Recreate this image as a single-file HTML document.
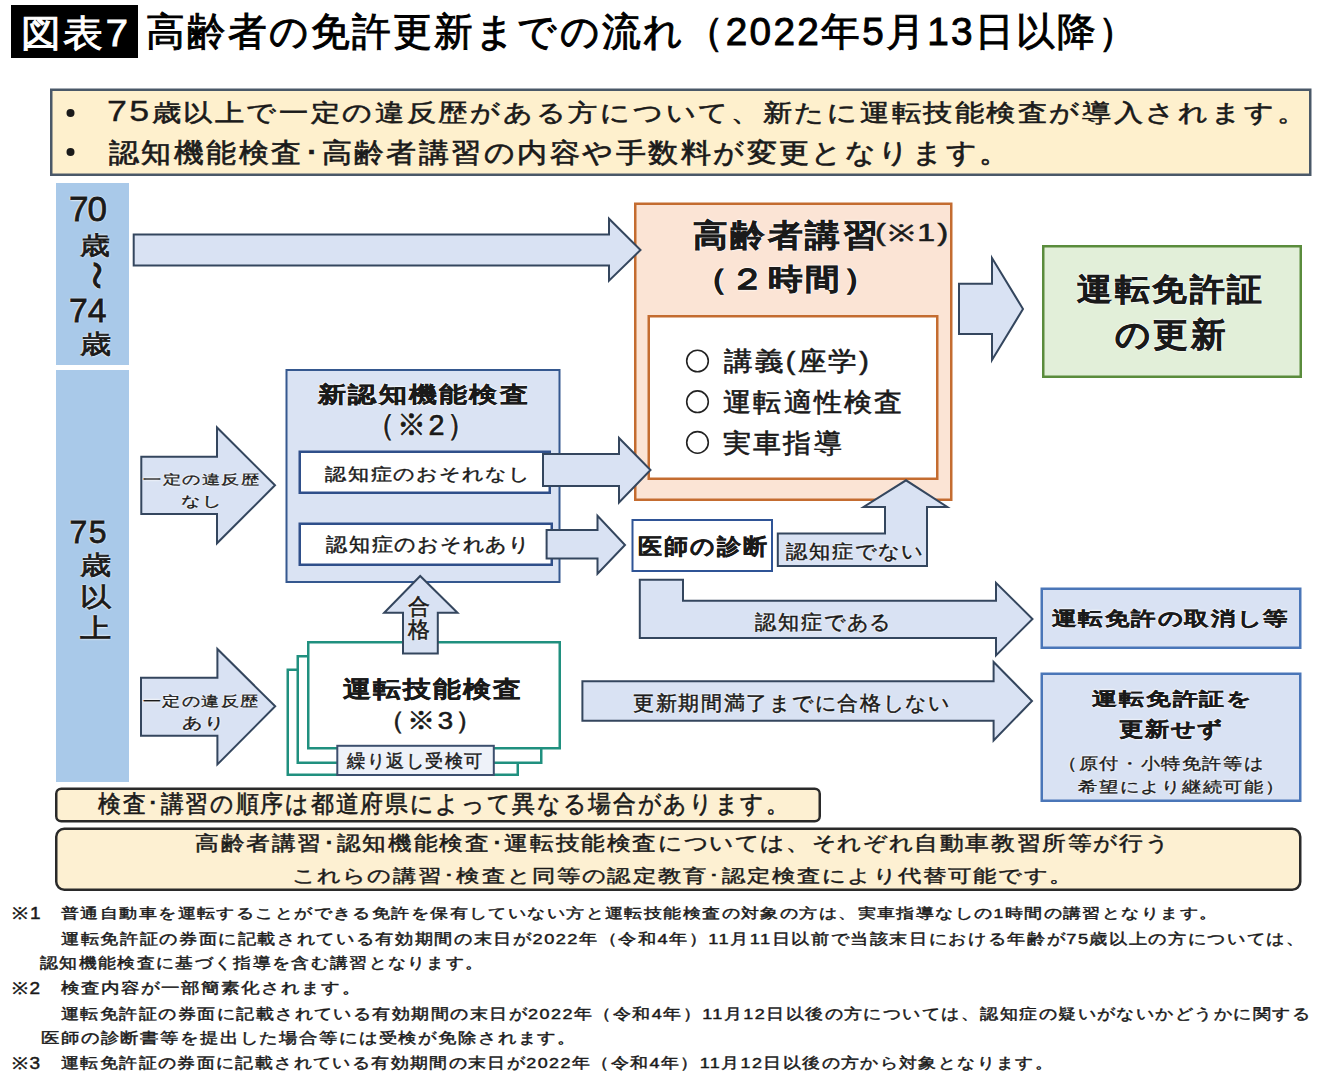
<!DOCTYPE html>
<html><head><meta charset="utf-8"><title>図表7</title>
<style>
html,body{margin:0;padding:0;background:#fff;}
body{width:1340px;height:1080px;position:relative;overflow:hidden;font-family:"Liberation Sans",sans-serif;color:#1a1a1a;}
svg.bg{position:absolute;left:0;top:0;}
.t{position:absolute;white-space:nowrap;}
</style></head><body>
<svg class="bg" width="1340" height="1080" viewBox="0 0 1340 1080">
<rect x="11" y="5" width="127" height="53" fill="#000"/>
<rect x="51.25" y="89.75" width="1259.00" height="85.00" rx="0" fill="#fef0cd" stroke="#4a5868" stroke-width="2.5"/>
<rect x="56" y="183" width="73" height="182" fill="#a9c9e9"/>
<rect x="56" y="370" width="73" height="412" fill="#a9c9e9"/>
<rect x="635.25" y="203.75" width="316.00" height="296.00" rx="0" fill="#fbe4d5" stroke="#c46c30" stroke-width="2.5"/>
<rect x="648.75" y="316.25" width="288.50" height="162.50" rx="0" fill="#ffffff" stroke="#c46c30" stroke-width="2.5"/>
<rect x="1043.25" y="246.25" width="257.50" height="130.50" rx="0" fill="#e2efd9" stroke="#5a8c3c" stroke-width="2.5"/>
<rect x="286.50" y="370.00" width="273.00" height="212.00" rx="0" fill="#dae3f3" stroke="#35588f" stroke-width="2"/>
<rect x="299.75" y="451.75" width="250.00" height="41.00" rx="0" fill="#ffffff" stroke="#2f4f8a" stroke-width="2.5"/>
<rect x="299.75" y="523.75" width="252.00" height="41.00" rx="0" fill="#ffffff" stroke="#2f4f8a" stroke-width="2.5"/>
<rect x="632.50" y="520.00" width="139.50" height="51.00" rx="0" fill="#ffffff" stroke="#2f5496" stroke-width="2"/>
<rect x="1041.75" y="588.75" width="258.50" height="59.00" rx="0" fill="#d9e2f3" stroke="#4a76b8" stroke-width="2.5"/>
<rect x="1041.75" y="673.75" width="258.50" height="127.00" rx="0" fill="#d9e2f3" stroke="#4a76b8" stroke-width="2.5"/>
<rect x="287.75" y="669.75" width="230.00" height="105.00" rx="0" fill="#ffffff" stroke="#20907f" stroke-width="2.5"/>
<rect x="297.75" y="656.25" width="243.50" height="106.50" rx="0" fill="#ffffff" stroke="#20907f" stroke-width="2.5"/>
<rect x="308.25" y="642.25" width="251.50" height="106.00" rx="0" fill="#ffffff" stroke="#20907f" stroke-width="2.5"/>
<rect x="56.25" y="788.75" width="763.50" height="32.50" rx="5" fill="#fdf0d2" stroke="#2a2a2a" stroke-width="2.5"/>
<rect x="56.25" y="828.75" width="1244.00" height="61.00" rx="8" fill="#fdf0d2" stroke="#2a2a2a" stroke-width="2.5"/>
<polygon points="133.70,234.50 609.00,234.50 609.00,218.70 640.50,250.00 609.00,280.70 609.00,265.50 133.70,265.50" fill="#d9e2f3" stroke="#34465e" stroke-width="2" stroke-linejoin="miter"/>
<polygon points="959.00,283.80 992.00,283.80 992.00,258.00 1023.00,309.00 992.00,360.00 992.00,334.00 959.00,334.00" fill="#d9e2f3" stroke="#34465e" stroke-width="2" stroke-linejoin="miter"/>
<polygon points="141.30,456.70 217.00,456.70 217.00,427.50 275.00,485.30 217.00,543.30 217.00,514.00 141.30,514.00" fill="#d9e2f3" stroke="#34465e" stroke-width="2" stroke-linejoin="miter"/>
<polygon points="141.00,677.80 217.40,677.80 217.40,649.00 275.20,706.30 217.40,764.40 217.40,735.80 141.00,735.80" fill="#d9e2f3" stroke="#34465e" stroke-width="2" stroke-linejoin="miter"/>
<polygon points="543.00,454.00 619.00,454.00 619.00,438.00 650.50,470.00 619.00,502.50 619.00,486.00 543.00,486.00" fill="#d9e2f3" stroke="#34465e" stroke-width="2" stroke-linejoin="miter"/>
<polygon points="546.60,530.00 597.50,530.00 597.50,515.70 625.00,545.00 597.50,573.80 597.50,558.50 546.60,558.50" fill="#d9e2f3" stroke="#34465e" stroke-width="2" stroke-linejoin="miter"/>
<polygon points="777.80,533.60 885.00,533.60 885.00,507.00 863.60,507.00 906.00,480.30 947.30,507.00 927.00,507.00 927.00,566.00 777.80,566.00" fill="#d9e2f3" stroke="#34465e" stroke-width="2" stroke-linejoin="miter"/>
<polygon points="639.80,579.80 683.00,579.80 683.00,600.80 996.00,600.80 996.00,582.80 1032.50,619.00 996.00,655.40 996.00,638.00 639.80,638.00" fill="#d9e2f3" stroke="#34465e" stroke-width="2" stroke-linejoin="miter"/>
<polygon points="582.40,681.30 993.60,681.30 993.60,662.00 1032.00,701.00 993.60,740.50 993.60,720.70 582.40,720.70" fill="#d9e2f3" stroke="#34465e" stroke-width="2" stroke-linejoin="miter"/>
<polygon points="403.00,653.50 403.00,612.80 384.20,612.80 420.20,576.00 457.50,612.80 437.80,612.80 437.80,653.50" fill="#d9e2f3" stroke="#34465e" stroke-width="2" stroke-linejoin="miter"/>
<rect x="337.30" y="745.80" width="156.50" height="29.20" rx="0" fill="#eef2f9" stroke="#3c4f6e" stroke-width="2"/>
<circle cx="70.5" cy="113" r="4" fill="#1a1a1a"/>
<circle cx="70.5" cy="152" r="4" fill="#1a1a1a"/>
<circle cx="697.5" cy="361" r="10.8" fill="none" stroke="#222" stroke-width="1.6"/>
<circle cx="697.5" cy="401.7" r="10.8" fill="none" stroke="#222" stroke-width="1.6"/>
<circle cx="697.5" cy="442.4" r="10.8" fill="none" stroke="#222" stroke-width="1.6"/>
</svg>
<div class="t" id="tag" style="left:21.1px;top:15.45px;font-size:37px;line-height:37px;letter-spacing:2.22px;transform:scaleX(1.079);transform-origin:0 0;-webkit-text-stroke:0.89px currentColor;color:#fff;">図表7</div>
<div class="t" id="title" style="left:145.9px;top:12.2px;font-size:39px;line-height:39px;letter-spacing:2.34px;transform:scaleX(0.9931);transform-origin:0 0;-webkit-text-stroke:0.94px currentColor;color:#000;">高齢者の免許更新までの流れ（2022年5月13日以降）</div>
<div class="t" id="b1" style="left:107.26px;top:100.8px;font-size:24.1px;line-height:24.1px;letter-spacing:1.93px;transform:scaleX(1.2183);transform-origin:0 0;-webkit-text-stroke:0.58px currentColor;"><span style="font-size:1.22em;line-height:0;-webkit-text-stroke:0.3px currentColor">75</span>歳以上で一定の違反歴がある方について、新たに運転技能検査が導入されます。</div>
<div class="t" id="b2" style="left:108.76px;top:139.66px;font-size:27px;line-height:27px;letter-spacing:2.16px;transform:scaleX(1.1122);transform-origin:0 0;-webkit-text-stroke:0.65px currentColor;">認知機能検査･高齢者講習の内容や手数料が変更となります。</div>
<div class="t" id="c70" style="left:68.9px;top:191.19px;font-size:35.1px;line-height:35.1px;letter-spacing:-0.9px;-webkit-text-stroke:0.8px currentColor;text-shadow:0 0 2px #fff,0 0 2px #fff,0 0 2px #fff;">70</div>
<div class="t" id="c1s" style="left:80px;top:232.77px;font-size:25px;line-height:25px;transform:scaleX(1.2);transform-origin:0 0;-webkit-text-stroke:0.8px currentColor;text-shadow:0 0 2px #fff,0 0 2px #fff,0 0 2px #fff;">歳</div>
<div class="t" id="ctil" style="left:78px;top:253.95px;font-size:42.9px;line-height:42.9px;transform:scaleX(1.2);transform-origin:0 0;-webkit-text-stroke:1.03px currentColor;transform:rotate(90deg);transform-origin:50% 50%;text-shadow:0 0 2px #fff,0 0 2px #fff,0 0 2px #fff;">～</div>
<div class="t" id="c74" style="left:68.9px;top:293.98px;font-size:33.75px;line-height:33.75px;-webkit-text-stroke:0.8px currentColor;text-shadow:0 0 2px #fff,0 0 2px #fff,0 0 2px #fff;">74</div>
<div class="t" id="c2s" style="left:80px;top:331.07px;font-size:26.3px;line-height:26.3px;transform:scaleX(1.2);transform-origin:0 0;-webkit-text-stroke:0.8px currentColor;text-shadow:0 0 2px #fff,0 0 2px #fff,0 0 2px #fff;">歳</div>
<div class="t" id="c75" style="left:69.42px;top:516.46px;font-size:32px;line-height:32px;letter-spacing:1.44px;-webkit-text-stroke:0.8px currentColor;text-shadow:0 0 2px #fff,0 0 2px #fff,0 0 2px #fff;">75</div>
<div class="t" id="c3" style="left:80px;top:550.39px;font-size:26px;line-height:26px;transform:scaleX(1.2);transform-origin:0 0;-webkit-text-stroke:0.8px currentColor;line-height:31.2px;text-shadow:0 0 2px #fff,0 0 2px #fff,0 0 2px #fff;">歳<br>以<br>上</div>
<div class="t" id="kt1" style="left:692.78px;top:220.02px;font-size:30.51px;line-height:30.51px;letter-spacing:2.44px;transform:scaleX(1.1211);transform-origin:0 0;-webkit-text-stroke:0.46px currentColor;font-weight:bold;text-shadow:0 0 2px #fff,0 0 2px #fff,0 0 2px #fff;">高齢者講習</div>
<div class="t" id="kt2" style="left:874.82px;top:222.2px;font-size:23px;line-height:23px;letter-spacing:1.84px;transform:scaleX(1.3924);transform-origin:0 0;-webkit-text-stroke:0.55px currentColor;">(※1)</div>
<div class="t" id="kt3" style="left:693.0px;top:263.97px;font-size:29.3px;line-height:29.3px;letter-spacing:2.34px;transform:scaleX(1.1929);transform-origin:0 0;-webkit-text-stroke:0.44px currentColor;font-weight:bold;text-shadow:0 0 2px #fff,0 0 2px #fff,0 0 2px #fff;">（２時間）</div>
<div class="t" id="l1" style="left:723.86px;top:348.2px;font-size:26px;line-height:26px;letter-spacing:2.08px;transform:scaleX(1.0992);transform-origin:0 0;-webkit-text-stroke:0.62px currentColor;">講義(座学)</div>
<div class="t" id="l2" style="left:722.96px;top:389.2px;font-size:26px;line-height:26px;letter-spacing:2.08px;transform:scaleX(1.0783);transform-origin:0 0;-webkit-text-stroke:0.62px currentColor;">運転適性検査</div>
<div class="t" id="l3" style="left:722.96px;top:429.9px;font-size:26px;line-height:26px;letter-spacing:2.08px;transform:scaleX(1.0764);transform-origin:0 0;-webkit-text-stroke:0.62px currentColor;">実車指導</div>
<div class="t" id="g1" style="left:1076.9px;top:274.29px;font-size:31.4px;line-height:31.4px;letter-spacing:2.51px;transform:scaleX(1.1209);transform-origin:0 0;-webkit-text-stroke:0.47px currentColor;font-weight:bold;text-shadow:0 0 2px #fff,0 0 2px #fff,0 0 2px #fff;">運転免許証</div>
<div class="t" id="g2" style="left:1114.9px;top:318.45px;font-size:33px;line-height:33px;letter-spacing:2.64px;transform:scaleX(1.0484);transform-origin:0 0;-webkit-text-stroke:0.49px currentColor;font-weight:bold;text-shadow:0 0 2px #fff,0 0 2px #fff,0 0 2px #fff;">の更新</div>
<div class="t" id="n1" style="left:317.96px;top:384.35px;font-size:22.0px;line-height:22.0px;letter-spacing:1.76px;transform:scaleX(1.274);transform-origin:0 0;-webkit-text-stroke:0.33px currentColor;font-weight:bold;text-shadow:0 0 2px #fff,0 0 2px #fff,0 0 2px #fff;">新認知機能検査</div>
<div class="t" id="n2" style="left:365.96px;top:409.52px;font-size:29.8px;line-height:29.8px;letter-spacing:2.38px;transform:scaleX(0.9634);transform-origin:0 0;-webkit-text-stroke:0.72px currentColor;text-shadow:0 0 2px #fff,0 0 2px #fff,0 0 2px #fff;">（※2）</div>
<div class="t" id="n3" style="left:325.44px;top:466.29px;font-size:17.1px;line-height:17.1px;letter-spacing:1.37px;transform:scaleX(1.2422);transform-origin:0 0;-webkit-text-stroke:0.41px currentColor;">認知症のおそれなし</div>
<div class="t" id="n4" style="left:325.74px;top:535.04px;font-size:19px;line-height:19px;letter-spacing:1.52px;transform:scaleX(1.1092);transform-origin:0 0;-webkit-text-stroke:0.46px currentColor;">認知症のおそれあり</div>
<div class="t" id="a1" style="left:143.0px;top:474.42px;font-size:12.71px;line-height:12.71px;letter-spacing:1.02px;transform:scaleX(1.3952);transform-origin:0 0;-webkit-text-stroke:0.31px currentColor;text-shadow:0 0 2px #fff,0 0 2px #fff,0 0 2px #fff;">一定の違反歴</div>
<div class="t" id="a2" style="left:180.96px;top:493.55px;font-size:14px;line-height:14px;letter-spacing:1.12px;transform:scaleX(1.3773);transform-origin:0 0;-webkit-text-stroke:0.34px currentColor;text-shadow:0 0 2px #fff,0 0 2px #fff,0 0 2px #fff;">なし</div>
<div class="t" id="a3" style="left:143.0px;top:694.45px;font-size:14px;line-height:14px;letter-spacing:1.12px;transform:scaleX(1.2867);transform-origin:0 0;-webkit-text-stroke:0.34px currentColor;text-shadow:0 0 2px #fff,0 0 2px #fff,0 0 2px #fff;">一定の違反歴</div>
<div class="t" id="a4" style="left:181.8px;top:716.33px;font-size:14.73px;line-height:14.73px;letter-spacing:1.18px;transform:scaleX(1.3578);transform-origin:0 0;-webkit-text-stroke:0.35px currentColor;text-shadow:0 0 2px #fff,0 0 2px #fff,0 0 2px #fff;">あり</div>
<div class="t" id="dr" style="left:638.0px;top:535.95px;font-size:21.7px;line-height:21.7px;letter-spacing:1.74px;transform:scaleX(1.0931);transform-origin:0 0;-webkit-text-stroke:0.33px currentColor;font-weight:bold;">医師の診断</div>
<div class="t" id="ny" style="left:785.9px;top:542.35px;font-size:19px;line-height:19px;letter-spacing:1.52px;transform:scaleX(1.1203);transform-origin:0 0;-webkit-text-stroke:0.46px currentColor;text-shadow:0 0 2px #fff,0 0 2px #fff,0 0 2px #fff;">認知症でない</div>
<div class="t" id="dm" style="left:755.36px;top:611.65px;font-size:20.13px;line-height:20.13px;letter-spacing:1.61px;transform:scaleX(1.0586);transform-origin:0 0;-webkit-text-stroke:0.48px currentColor;text-shadow:0 0 2px #fff,0 0 2px #fff,0 0 2px #fff;">認知症である</div>
<div class="t" id="tk" style="left:1052.36px;top:609.07px;font-size:19.1px;line-height:19.1px;letter-spacing:1.53px;transform:scaleX(1.2876);transform-origin:0 0;-webkit-text-stroke:0.29px currentColor;font-weight:bold;text-shadow:0 0 2px #fff,0 0 2px #fff,0 0 2px #fff;">運転免許の取消し等</div>
<div class="t" id="r1" style="left:1091.68px;top:690.82px;font-size:17.9px;line-height:17.9px;letter-spacing:1.43px;transform:scaleX(1.3822);transform-origin:0 0;-webkit-text-stroke:0.27px currentColor;font-weight:bold;text-shadow:0 0 2px #fff,0 0 2px #fff,0 0 2px #fff;">運転免許証を</div>
<div class="t" id="r2" style="left:1118.8px;top:718.58px;font-size:20px;line-height:20px;letter-spacing:1.6px;transform:scaleX(1.2107);transform-origin:0 0;-webkit-text-stroke:0.3px currentColor;font-weight:bold;text-shadow:0 0 2px #fff,0 0 2px #fff,0 0 2px #fff;">更新せず</div>
<div class="t" id="r3" style="left:1058.1px;top:755.9px;font-size:16px;line-height:16px;letter-spacing:1.28px;transform:scaleX(1.1938);transform-origin:0 0;-webkit-text-stroke:0.38px currentColor;text-shadow:0 0 2px #fff,0 0 2px #fff,0 0 2px #fff;">（原付・小特免許等は</div>
<div class="t" id="r4" style="left:1077.9px;top:779.61px;font-size:14.7px;line-height:14.7px;letter-spacing:1.18px;transform:scaleX(1.2846);transform-origin:0 0;-webkit-text-stroke:0.35px currentColor;text-shadow:0 0 2px #fff,0 0 2px #fff,0 0 2px #fff;">希望により継続可能）</div>
<div class="t" id="ku" style="left:632.94px;top:692.64px;font-size:20px;line-height:20px;letter-spacing:1.6px;transform:scaleX(1.0509);transform-origin:0 0;-webkit-text-stroke:0.48px currentColor;text-shadow:0 0 2px #fff,0 0 2px #fff,0 0 2px #fff;">更新期間満了までに合格しない</div>
<div class="t" id="gk" style="left:408.28px;top:594.66px;font-size:22px;line-height:22px;-webkit-text-stroke:0.53px currentColor;line-height:23px;text-shadow:0 0 2px #fff,0 0 2px #fff,0 0 2px #fff;">合<br>格</div>
<div class="t" id="ug1" style="left:343.02px;top:678.41px;font-size:23.4px;line-height:23.4px;letter-spacing:1.87px;transform:scaleX(1.2086);transform-origin:0 0;-webkit-text-stroke:0.35px currentColor;font-weight:bold;">運転技能検査</div>
<div class="t" id="ug2" style="left:376.8px;top:708.59px;font-size:24.53px;line-height:24.53px;letter-spacing:1.96px;transform:scaleX(1.1258);transform-origin:0 0;-webkit-text-stroke:0.59px currentColor;">（※3）</div>
<div class="t" id="kr" style="left:347.4px;top:752.99px;font-size:17.51px;line-height:17.51px;letter-spacing:1.4px;transform:scaleX(1.0082);transform-origin:0 0;-webkit-text-stroke:0.42px currentColor;">繰り返し受検可</div>
<div class="t" id="nt1" style="left:97.9px;top:792.45px;font-size:24px;line-height:24px;letter-spacing:1.92px;transform:scaleX(0.9533);transform-origin:0 0;-webkit-text-stroke:0.58px currentColor;">検査･講習の順序は都道府県によって異なる場合があります。</div>
<div class="t" id="nt2" style="left:195.0px;top:832.96px;font-size:20.4px;line-height:20.4px;letter-spacing:1.63px;transform:scaleX(1.1842);transform-origin:0 0;-webkit-text-stroke:0.49px currentColor;">高齢者講習･認知機能検査･運転技能検査については、それぞれ自動車教習所等が行う</div>
<div class="t" id="nt3" style="left:292.14px;top:868.35px;font-size:17.5px;line-height:17.5px;letter-spacing:1.4px;transform:scaleX(1.297);transform-origin:0 0;-webkit-text-stroke:0.42px currentColor;">これらの講習･検査と同等の認定教育･認定検査により代替可能です。</div>
<div class="t" id="f1a" style="left:12.12px;top:904.5px;font-size:16.5px;line-height:16.5px;letter-spacing:1.55px;transform:scaleX(1.15);transform-origin:0 0;-webkit-text-stroke:0.45px currentColor;">※1</div>
<div class="t" id="f1" style="left:61.38px;top:907.41px;font-size:13.59px;line-height:13.59px;letter-spacing:1.09px;transform:scaleX(1.2875);transform-origin:0 0;-webkit-text-stroke:0.45px currentColor;">普通自動車を運転することができる免許を保有していない方と運転技能検査の対象の方は、実車指導なしの1時間の講習となります。</div>
<div class="t" id="f2" style="left:60.52px;top:931.06px;font-size:15px;line-height:15px;letter-spacing:1.2px;transform:scaleX(1.2129);transform-origin:0 0;-webkit-text-stroke:0.45px currentColor;">運転免許証の券面に記載されている有効期間の末日が2022年（令和4年）11月11日以前で当該末日における年齢が75歳以上の方については、</div>
<div class="t" id="f3" style="left:39.94px;top:955.19px;font-size:15px;line-height:15px;letter-spacing:1.2px;transform:scaleX(1.1929);transform-origin:0 0;-webkit-text-stroke:0.45px currentColor;">認知機能検査に基づく指導を含む講習となります。</div>
<div class="t" id="f4a" style="left:12px;top:980px;font-size:16.5px;line-height:16.5px;letter-spacing:1.28px;transform:scaleX(1.15);transform-origin:0 0;-webkit-text-stroke:0.45px currentColor;">※2</div>
<div class="t" id="f4" style="left:61.0px;top:979.75px;font-size:15px;line-height:15px;letter-spacing:1.2px;transform:scaleX(1.2369);transform-origin:0 0;-webkit-text-stroke:0.45px currentColor;">検査内容が一部簡素化されます。</div>
<div class="t" id="f5" style="left:60.52px;top:1005.81px;font-size:15px;line-height:15px;letter-spacing:1.2px;transform:scaleX(1.2013);transform-origin:0 0;-webkit-text-stroke:0.45px currentColor;">運転免許証の券面に記載されている有効期間の末日が2022年（令和4年）11月12日以後の方については、認知症の疑いがないかどうかに関する</div>
<div class="t" id="f6" style="left:40.62px;top:1030.19px;font-size:15px;line-height:15px;letter-spacing:1.2px;transform:scaleX(1.2257);transform-origin:0 0;-webkit-text-stroke:0.45px currentColor;">医師の診断書等を提出した場合等には受検が免除されます。</div>
<div class="t" id="f7a" style="left:12px;top:1055px;font-size:16.5px;line-height:16.5px;letter-spacing:1.28px;transform:scaleX(1.15);transform-origin:0 0;-webkit-text-stroke:0.45px currentColor;">※3</div>
<div class="t" id="f7" style="left:61.0px;top:1054.74px;font-size:15px;line-height:15px;letter-spacing:1.2px;transform:scaleX(1.1966);transform-origin:0 0;-webkit-text-stroke:0.45px currentColor;">運転免許証の券面に記載されている有効期間の末日が2022年（令和4年）11月12日以後の方から対象となります。</div>
</body></html>
